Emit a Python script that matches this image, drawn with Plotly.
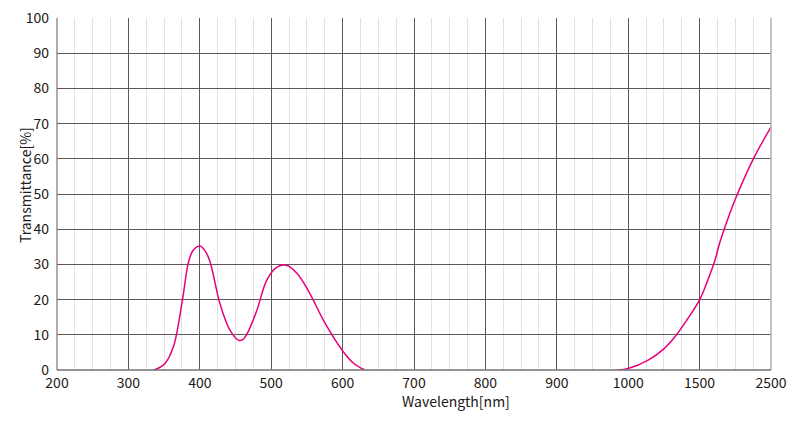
import plotly.graph_objects as go

# ---- data (wavelength in nm, transmittance in %) ----
band1_wl = [336, 351, 363, 375, 384, 390, 396, 401, 407, 414, 428, 442, 455, 460, 466, 480, 494, 508, 520, 536, 554, 573, 601, 615, 631]
band1_t = [0, 1.8, 6.6, 19, 30.5, 33.8, 35.0, 35.2, 34.0, 31, 19, 11.4, 8.4, 8.6, 10.2, 17, 25.6, 29.2, 29.8, 27.5, 21.8, 14.2, 5.2, 2.0, 0]

band2_wl = [985, 1000, 1140, 1250, 1329, 1411, 1500, 1616, 1710, 1780, 1874, 2014, 2246, 2500]
band2_t = [0, 0.4, 2.8, 6.0, 9.5, 14.2, 19.9, 25.6, 30.8, 36, 41.7, 49.2, 59.7, 69]

tick_wl = [200, 300, 400, 500, 600, 700, 800, 900, 1000, 1500, 2500]
tick_labels = ["200", "300", "400", "500", "600", "700", "800", "900", "1000", "1500", "2500"]
y_ticks = [0, 10, 20, 30, 40, 50, 60, 70, 80, 90, 100]

# piecewise (broken) wavelength scale: one unit per major division
def to_u(wl):
    if wl <= 1000:
        return (wl - 200) / 100.0
    if wl <= 1500:
        return 8 + (wl - 1000) / 500.0
    return 9 + (wl - 1500) / 1000.0

MAG = "#e6007e"
FONT = "Noto Sans CJK JP"
TXT = "#231815"

fig = go.Figure()
for wl, t in ((band1_wl, band1_t), (band2_wl, band2_t)):
    fig.add_trace(go.Scatter(
        x=[to_u(w) for w in wl], y=t, mode="lines",
        line=dict(color=MAG, width=1.5, shape="spline", smoothing=1.0),
        hoverinfo="skip", showlegend=False))

# page body has an 8px margin, so the figure is sized/offset accordingly
fig.update_layout(
    width=792, height=418,
    margin=dict(l=49, r=29, t=10, b=56, autoexpand=False),
    paper_bgcolor="white", plot_bgcolor="white",
    font=dict(family=FONT, size=14, color=TXT),
    xaxis=dict(
        range=[0, 10], tickmode="array",
        tickvals=[to_u(w) for w in tick_wl], ticktext=tick_labels,
        showgrid=True, gridcolor="#605858", gridwidth=1,
        minor=dict(dtick=0.25, showgrid=True, gridcolor="#e2e2e2", gridwidth=1),
        zeroline=False, showline=False, ticks="", ticklabelstandoff=3,
        ticklabeloverflow="allow", automargin=False, fixedrange=True,
    ),
    yaxis=dict(
        range=[0, 100], tickmode="array", tickvals=y_ticks,
        showgrid=True, gridcolor="#605858", gridwidth=1,
        zeroline=False, showline=False, ticks="", ticklabelstandoff=7,
        ticklabeloverflow="allow", automargin=False, fixedrange=True,
    ),
    shapes=[
        dict(type="line", xref="paper", yref="paper", x0=1, x1=1, y0=0, y1=1,
             line=dict(color="#b0b0b0", width=1.5)),
        dict(type="line", xref="paper", yref="paper", x0=0, x1=1, y0=0, y1=0,
             line=dict(color="#707070", width=1.5)),
        dict(type="line", xref="paper", yref="paper", x0=0, x1=0, y0=0, y1=1,
             line=dict(color="#605858", width=1)),
    ],
    annotations=[
        dict(text="Wavelength[nm]", xref="paper", yref="paper",
             x=(456 - 57) / 714, y=-(401 - 370) / 352, xanchor="center", yanchor="middle",
             showarrow=False, font=dict(family=FONT, size=14, color=TXT)),
        dict(text="Transmittance[%]", xref="paper", yref="paper",
             x=-(57 - 25) / 714, y=(370 - 185) / 352, xanchor="center", yanchor="middle",
             textangle=-90, showarrow=False, font=dict(family=FONT, size=14, color=TXT)),
    ],
)

fig.write_html("out.html")
